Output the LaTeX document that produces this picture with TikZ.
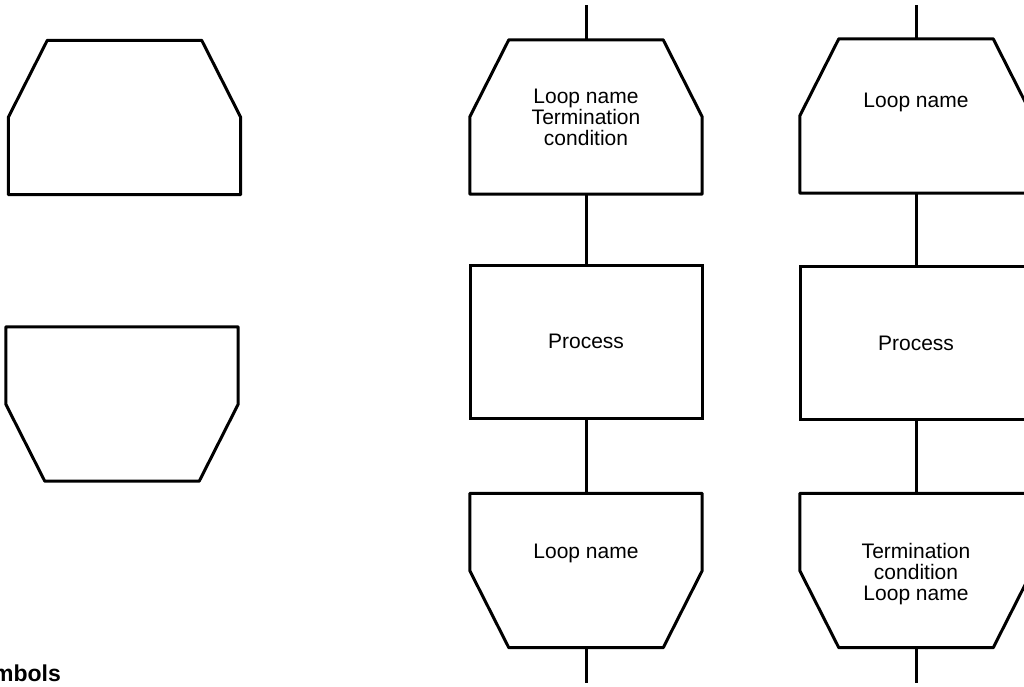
\documentclass[tikz,border=0pt]{standalone}
\usepackage{fontspec}
\setmainfont{Liberation Sans}
\usetikzlibrary{calc,positioning}

\tikzset{
  outline/.style={line width=3pt, line join=round},
  link/.style={line width=3pt},
  txt/.style={inner sep=0pt, align=center, font=\fontsize{21}{21}\selectfont},
  box/.style={txt, rectangle, minimum width=232pt, minimum height=154pt},
  loopstart/.style={box, append after command={\pgfextra{\draw[outline]
    ([xshift=39pt]\tikzlastnode.north west) -- ([xshift=-39pt]\tikzlastnode.north east)
    -- ([yshift=-77pt]\tikzlastnode.north east) -- (\tikzlastnode.south east)
    -- (\tikzlastnode.south west) -- ([yshift=-77pt]\tikzlastnode.north west) -- cycle;}}},
  loopend/.style={box, append after command={\pgfextra{\draw[outline]
    (\tikzlastnode.north west) -- (\tikzlastnode.north east)
    -- ([yshift=77pt]\tikzlastnode.south east) -- ([xshift=-39pt]\tikzlastnode.south east)
    -- ([xshift=39pt]\tikzlastnode.south west) -- ([yshift=77pt]\tikzlastnode.south west) -- cycle;}}},
  process/.style={box, draw, line width=3pt, minimum height=153pt}
}

\begin{document}
\begin{tikzpicture}[x=1pt,y=-1pt]
\useasboundingbox (0,0) rectangle (1024,686);
\clip (0,0) rectangle (1024,686);

% symbols
\node[loopstart] (symstart) at (124.5,117.5) {};
\node[loopend] (symend) at (122,404) {};
\node[anchor=base east, inner sep=0pt, font=\bfseries\fontsize{23}{25}\selectfont] (title) at (61,681) {Symbols};

% loop with test at start
\coordinate (a0) at (586,5);
\node[loopstart] (a1) at (586,117) {Loop name\\Termination\\condition};
\node[process] (a2) at (586,341.5) {Process};
\node[loopend] (a3) at (586,570.5) {};
\node[txt] (a3t) at (586,553) {Loop name};
\coordinate (a4) at (586,683);
\draw[link] (a0) -- (a1) (a1) -- (a2) (a2) -- (a3) (a3) -- (a4);

% loop with test at end
\coordinate (b0) at (916,5);
\node[loopstart] (b1) at (916,116) {};
\node[txt] (b1t) at (916,102) {Loop name};
\node[process] (b2) at (916,343) {Process};
\node[loopend] (b3) at (916,570.5) {};
\node[txt] (b3t) at (916,574) {Termination\\condition\\Loop name};
\coordinate (b4) at (916,683);
\draw[link] (b0) -- (b1) (b1) -- (b2) (b2) -- (b3) (b3) -- (b4);
\end{tikzpicture}
\end{document}
